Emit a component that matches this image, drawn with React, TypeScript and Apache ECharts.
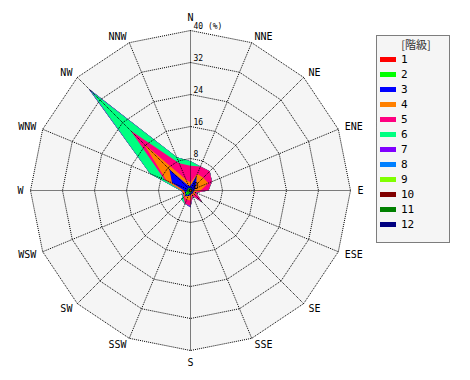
import React, { useEffect, useRef } from 'react';
import * as echarts from 'echarts';

const DIRS = ['N', 'NNE', 'NE', 'ENE', 'E', 'ESE', 'SE', 'SSE', 'S', 'SSW', 'SW', 'WSW', 'W', 'WNW', 'NW', 'NNW'];
// radar indicators run counter-clockwise from the top
const ORDER = [0, 15, 14, 13, 12, 11, 10, 9, 8, 7, 6, 5, 4, 3, 2, 1];

const CLASSES = ['1', '2', '3', '4', '5', '6', '7', '8', '9', '10', '11', '12'];
const COLORS = ['#ff0000', '#00ff00', '#0000ff', '#ff8000', '#ff0080', '#00ff80', '#8000ff', '#0080ff', '#80ff00', '#800000', '#008000', '#000080'];

// frequency (%) per class, directions N .. NNW clockwise
const class1 = [0.3, 0.3, 0.3, 0.3, 0.3, 0.2, 0.3, 0.2, 0.3, 0.3, 0.5, 0.5, 0.4, 0.3, 0.3, 0.3];
const class2 = [0.3, 0.2, 0.2, 0.2, 0.2, 0.2, 0.3, 0.2, 0.3, 0.7, 1.3, 0.7, 0.4, 0.5, 0.5, 0.3];
const class3 = [0.6, 3.5, 1.5, 0.7, 0.5, 0.2, 0.4, 0.4, 0.6, 0.5, 0.2, 0.3, 0.8, 4.2, 6.7, 0.6];
const class4 = [0.8, 0.5, 2.5, 3.6, 1.5, 0.4, 1.0, 0.2, 1.3, 1.0, 0.2, 0.3, 0.6, 1.5, 9.1, 1.8];
const class5 = [4.2, 2.0, 2.3, 1.0, 2.0, 0.5, 2.2, 0.5, 1.3, 1.1, 0.3, 0.2, 0.1, 0.5, 4.6, 4.4];
const class6 = [1.1, 0, 0, 0, 0, 0, 0, 0, 0, 0, 0.7, 0, 0.2, 3.9, 14.1, 1.6];
const class7 = [0, 0, 0, 0, 0, 0, 0, 0, 0.4, 0, 0, 0, 0, 0, 0.7, 0];
const class8 = [0, 0, 0, 0, 0, 0, 0, 0, 0, 0, 0, 0, 0, 0, 0, 0];
const class9 = [0, 0, 0, 0, 0, 0, 0, 0, 0, 0, 0, 0, 0, 0, 0, 0];
const class10 = [0, 0, 0, 0, 0, 0, 0, 0, 0, 0, 0, 0, 0, 0, 0, 0];
const class11 = [0, 0, 0, 0, 0, 0, 0, 0, 0, 0, 0, 0, 0, 0, 0, 0];
const class12 = [0, 0, 0, 0, 0, 0, 0, 0, 0, 0, 0, 0, 0, 0, 0, 0];

const CLASS_VALUES = [class1, class2, class3, class4, class5, class6, class7, class8, class9, class10, class11, class12];

const RADIUS_MAX = 40;
const TICK_LABEL = (v: number) => (v === RADIUS_MAX ? '40 (%)' : String(v));

export default function App() {
  const ref = useRef<HTMLDivElement>(null);
  useEffect(() => {
    document.body.style.margin = '0';
    const chart = echarts.init(ref.current!, null, { renderer: 'svg' });

    // cumulative sums per class
    const cumulative: number[][] = [];
    let running = DIRS.map(() => 0);
    CLASS_VALUES.forEach((arr) => {
      running = running.map((v, i) => v + arr[i]);
      cumulative.push(running.slice());
    });

    const mono = 'DejaVu Sans Mono';
    const dotted = { type: [1, 1], color: '#000', width: 1 };
    const series: any[] = [];
    for (let k = CLASSES.length - 1; k >= 0; k--) {
      const vals = ORDER.map((i) => +cumulative[k][i].toFixed(3));
      series.push({
        type: 'radar',
        radarIndex: 0,
        name: CLASSES[k],
        symbol: 'none',
        color: COLORS[k],
        itemStyle: { color: COLORS[k] },
        lineStyle: { width: 0, color: COLORS[k] },
        areaStyle: { color: COLORS[k], opacity: 1 },
        z: 2,
        data: [{ name: CLASSES[k], value: vals }],
      });
    }

    const baseRadar = {
      center: [190.5, 190.5],
      radius: 160,
      startAngle: 90,
      shape: 'polygon',
      splitNumber: 5,
      axisLine: { show: false },
      axisTick: { show: false },
    };

    chart.setOption({
      animation: false,
      radar: [
        {
          ...baseRadar,
          z: 0,
          axisName: { show: false },
          indicator: ORDER.map((i) => ({ name: DIRS[i], min: 0, max: RADIUS_MAX })),
          splitLine: { show: false },
          splitArea: { show: true, areaStyle: { color: ['#f5f5f5'] } },
          axisLabel: { show: false },
        },
        {
          ...baseRadar,
          z: 5,
          nameGap: 7,
          axisName: { color: '#000', fontFamily: mono, fontSize: 10 },
          indicator: ORDER.map((i) => ({
            name: DIRS[i],
            min: 0,
            max: RADIUS_MAX,
            ...(i === 0
              ? {
                  axisLabel: {
                    show: true,
                    color: '#000',
                    fontFamily: mono,
                    fontSize: 8,
                    margin: -3,
                    align: 'left',
                    verticalAlign: 'bottom',
                    formatter: TICK_LABEL,
                  },
                }
              : {}),
          })),
          splitLine: { lineStyle: dotted },
          splitArea: { show: false },
          axisLabel: { show: false },
        },
      ],
      // polar system used only for the dotted radial spokes
      polar: { center: [190.5, 190.5], radius: 160, z: 5 },
      angleAxis: {
        type: 'category',
        data: DIRS,
        boundaryGap: false,
        startAngle: 90,
        clockwise: true,
        axisLine: { show: false },
        axisTick: { show: false },
        axisLabel: { show: false },
        splitLine: { show: true, lineStyle: dotted },
        z: 5,
      },
      radiusAxis: {
        min: 0,
        max: RADIUS_MAX,
        axisLine: { show: false },
        axisTick: { show: false },
        axisLabel: { show: false },
        splitLine: { show: false },
      },
      legend: {
        orient: 'vertical',
        left: 380,
        top: 54,
        padding: 0,
        itemWidth: 16,
        itemHeight: 5,
        itemGap: 4,
        icon: 'rect',
        selectedMode: false,
        data: CLASSES,
        textStyle: { fontFamily: mono, fontSize: 11, color: '#000', lineHeight: 10 },
      },
      graphic: [
        {
          type: 'rect',
          z: -1,
          shape: { x: 376.5, y: 35.5, width: 73, height: 207 },
          style: { fill: '#f5f5f5', stroke: '#000', lineWidth: 1, lineDash: [1, 1] },
        },
        {
          type: 'text',
          x: 416,
          y: 44,
          style: {
            text: '[階級]',
            fill: '#333',
            font: '11px "Noto Sans CJK JP"',
            align: 'center',
            verticalAlign: 'middle',
            textAlign: 'center',
            textVerticalAlign: 'middle',
          },
        },
      ],
      series,
    });
    return () => chart.dispose();
  }, []);
  return <div ref={ref} style={{ width: 470, height: 380 }} />;
}
